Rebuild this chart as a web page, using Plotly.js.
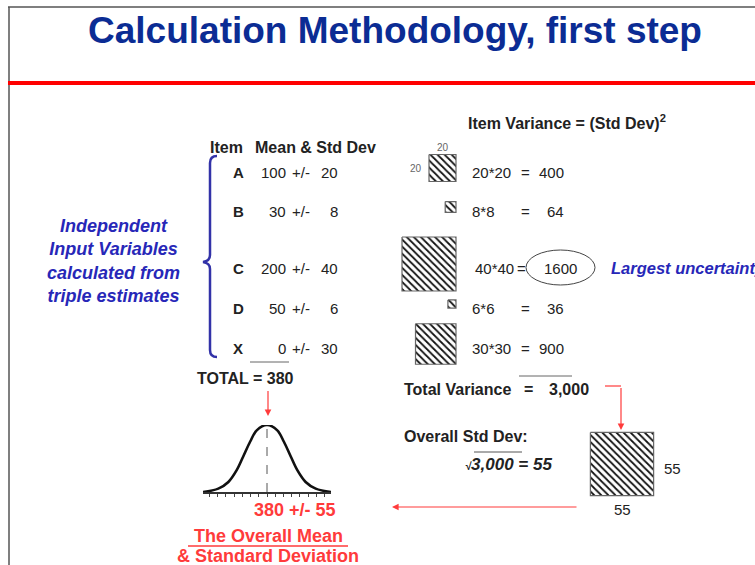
<!DOCTYPE html>
<html>
<head>
<meta charset="utf-8">
<script src="https://cdn.plot.ly/plotly-3.0.1.min.js"></script>
<style>html,body{margin:0;padding:0;background:#fff;}#chart{width:755px;height:565px;}</style>
</head>
<body>
<div id="chart"></div>
<script>
// ---------- DATA ----------
const items = ['A', 'B', 'C', 'D', 'X'];
const means = [100, 30, 200, 50, 0];
const stdDevs = [20, 8, 40, 6, 30];
const variances = [400, 64, 1600, 36, 900];
const totalMean = 380;
const totalVariance = 3000;
const overallStdDev = 55;
// bell curve (value, relative height)
const bellX = [100, 167, 211, 248, 276, 306, 335, 380, 425, 454, 484, 512, 549, 593, 660];
const bellY = [0.0, 0.05, 0.15, 0.33, 0.53, 0.75, 0.92, 1.0, 0.92, 0.75, 0.53, 0.33, 0.15, 0.05, 0.0];

// ---------- LAYOUT HELPERS (pixel coordinates) ----------
const W = 755, H = 565;
const FONT = 'Liberation Sans, Arial, sans-serif';
const rowY = [172, 211, 268, 308, 348];
const sqRight = 456, sqScale = 1.35, bigScale = 1.15;
const RED = '#ff3b3b', DARK = '#222', BLUE = '#2727b8';

const ann = [];
function T(x, y, text, o) {
  o = o || {};
  ann.push({x: x, y: y, xref: 'x', yref: 'y', text: text, showarrow: false,
    xanchor: o.xa || 'left', yanchor: 'middle',
    font: {family: FONT, size: o.size || 15, color: o.color || DARK}});
}
function ARROW(x, y, ax, ay) {
  ann.push({x: x, y: y, ax: ax, ay: ay, xref: 'x', yref: 'y', axref: 'x', ayref: 'y',
    text: ' ', showarrow: true, arrowhead: 2, arrowsize: 1.1, arrowwidth: 1.2,
    arrowcolor: RED, standoff: 0, startstandoff: 0, font: {size: 1}});
}
const shapes = [];
function L(x0, y0, x1, y1, color, width, dash) {
  shapes.push({type: 'line', xref: 'x', yref: 'y', x0: x0, y0: y0, x1: x1, y1: y1,
    line: {color: color, width: width || 1, dash: dash || 'solid'}});
}

// frame + red rule
L(8, 7, W, 7, '#555', 1.5);
L(9, 7, 9, H, '#555', 1.5);
L(8, 83, W, 83, '#ff0000', 4);

// headers
T(208, 147, '<b>Item</b>', {size: 16});
T(253, 147, '<b>Mean & Std Dev</b>', {size: 16});
T(466, 122, '<b>Item Variance = (Std Dev)<sup>2</sup></b>', {size: 16});

// rows
const maxIdx = variances.indexOf(Math.max.apply(null, variances));
const sqX = [], sqY = [];
items.forEach(function (it, i) {
  const y = rowY[i];
  T(238, y, '<b>' + it + '</b>', {xa: 'center'});
  T(288, y, String(means[i]), {xa: 'right'});
  T(290, y, '+/-');
  T(340, y, String(stdDevs[i]), {xa: 'right'});
  const sd = stdDevs[i];
  if (i === maxIdx) {
    T(473, y, sd + '*' + sd);
    T(521, y, '=', {xa: 'center'});
    T(560, y, String(variances[i]), {xa: 'center'});
  } else {
    T(470, y, sd + '*' + sd);
    T(525, y, '=', {xa: 'center'});
    T(566, y, String(variances[i]), {xa: 'right'});
  }
  // square of side proportional to std dev
  const s = sd * sqScale, cy = y - 4;
  sqX.push(sqRight - s, sqRight, sqRight, sqRight - s, sqRight - s, null);
  sqY.push(cy - s / 2, cy - s / 2, cy + s / 2, cy + s / 2, cy - s / 2, null);
  if (i === 0) {
    T(sqRight - s / 2, cy - s / 2 - 7, String(sd), {xa: 'center', size: 10, color: '#666'});
    T(sqRight - s - 5, cy, String(sd), {xa: 'right', size: 10, color: '#666'});
  }
});
// highlight ellipse + note
shapes.push({type: 'circle', xref: 'x', yref: 'y', x0: 526, x1: 595, y0: 250, y1: 285,
  line: {color: '#444', width: 1}});
T(609, rowY[maxIdx], '<b><i>Largest uncertainty</i></b>', {color: BLUE, size: 16.5});

// sum line and total
L(250, 362, 289, 362, '#666', 1);
T(195, 378, '<b>TOTAL = ' + totalMean + '</b>', {size: 16});
ARROW(268, 416, 268, 389);

// total variance
L(519, 376, 572, 376, '#666', 1);
T(402, 389, '<b>Total Variance</b>', {size: 16});
T(528, 389, '<b>=</b>', {xa: 'center', size: 16});
T(547, 389, '<b>' + totalVariance.toLocaleString('en-US') + '</b>', {size: 16});
L(605, 386, 621, 386, RED, 1.2);
ARROW(621, 430, 621, 386);

// overall std dev
T(402, 436, '<b>Overall Std Dev:</b>', {size: 16});
T(463, 464, '<b><i><span style="font-size:11px">√</span>' + totalVariance.toLocaleString('en-US') + ' = ' + overallStdDev + '</i></b>', {size: 17});
L(474, 452, 522, 452, '#555', 1);

// big square
const bs = overallStdDev * bigScale, bcx = 622, bcy = 464;
sqX.push(bcx - bs / 2, bcx + bs / 2, bcx + bs / 2, bcx - bs / 2, bcx - bs / 2, null);
sqY.push(bcy - bs / 2, bcy - bs / 2, bcy + bs / 2, bcy + bs / 2, bcy - bs / 2, null);
T(bcx + bs / 2 + 8, bcy + 4, String(overallStdDev));
T(bcx, bcy + bs / 2 + 14, String(overallStdDev), {xa: 'center'});
ARROW(392, 507, 578, 507);

// result
T(295, 510, '<b>' + totalMean + ' +/- ' + overallStdDev + '</b>', {xa: 'center', size: 18, color: RED});
T(268, 536, '<b>The Overall Mean</b>', {xa: 'center', size: 18, color: RED});
L(188, 546, 348, 546, RED, 1.5);
T(268, 556, '<b>& Standard Deviation</b>', {xa: 'center', size: 18, color: RED});

// left brace + description
shapes.push({type: 'path', xref: 'x', yref: 'y',
  path: 'M 217 156 Q 210 156 210 163 L 210 255 Q 210 261 203 262 Q 210 263 210 269 L 210 350 Q 210 357 217 357',
  line: {color: '#3232a8', width: 2.5}});
T(113, 261, '<b><i>Independent<br>Input Variables<br>calculated from<br>triple estimates</i></b>',
  {xa: 'center', size: 18, color: BLUE});
ann[ann.length - 1].align = 'center';

// dashed line through the bell's mean
shapes.push({type: 'line', xref: 'x2', yref: 'y2', x0: totalMean, x1: totalMean, y0: 0, y1: 1,
  line: {color: '#555', width: 1, dash: 'dash'}});

const traces = [
  {x: sqX, y: sqY, xaxis: 'x', yaxis: 'y', type: 'scatter', mode: 'lines', fill: 'toself',
    fillcolor: '#fff',
    fillpattern: {shape: '\\', fgcolor: '#111', bgcolor: '#fff', size: 5, solidity: 0.35},
    line: {color: '#666', width: 1.2}, hoverinfo: 'skip', showlegend: false},
  {x: bellX, y: bellY, xaxis: 'x2', yaxis: 'y2', type: 'scatter', mode: 'lines',
    line: {color: '#111', width: 2.6, shape: 'spline', smoothing: 1},
    hoverinfo: 'skip', showlegend: false}
];

const layout = {
  width: W, height: H,
  margin: {l: 0, r: 0, t: 0, b: 0},
  paper_bgcolor: '#fff', plot_bgcolor: 'rgba(0,0,0,0)',
  showlegend: false,
  title: {text: '<b>Calculation Methodology, first step</b>', x: 395 / W, xanchor: 'center',
    y: 1 - 30 / H, yanchor: 'middle', yref: 'container', xref: 'container',
    font: {family: FONT, size: 37, color: '#0b2c94'}},
  xaxis: {range: [0, W], visible: false, fixedrange: true, domain: [0, 1]},
  yaxis: {range: [H, 0], visible: false, fixedrange: true, domain: [0, 1]},
  xaxis2: {anchor: 'y2', domain: [203 / W, 331 / W], range: [100, 660],
    showline: true, linecolor: '#333', linewidth: 2, ticks: 'outside', ticklen: 3,
    tickcolor: '#444', tickwidth: 1, tick0: totalMean, dtick: 36, showticklabels: false,
    showgrid: false, zeroline: false, fixedrange: true},
  yaxis2: {anchor: 'x2', domain: [1 - 492 / H, 1 - 425 / H], range: [0, 1],
    visible: false, fixedrange: true},
  shapes: shapes,
  annotations: ann
};

Plotly.newPlot('chart', traces, layout, {displayModeBar: false, staticPlot: true});
</script>
</body>
</html>
